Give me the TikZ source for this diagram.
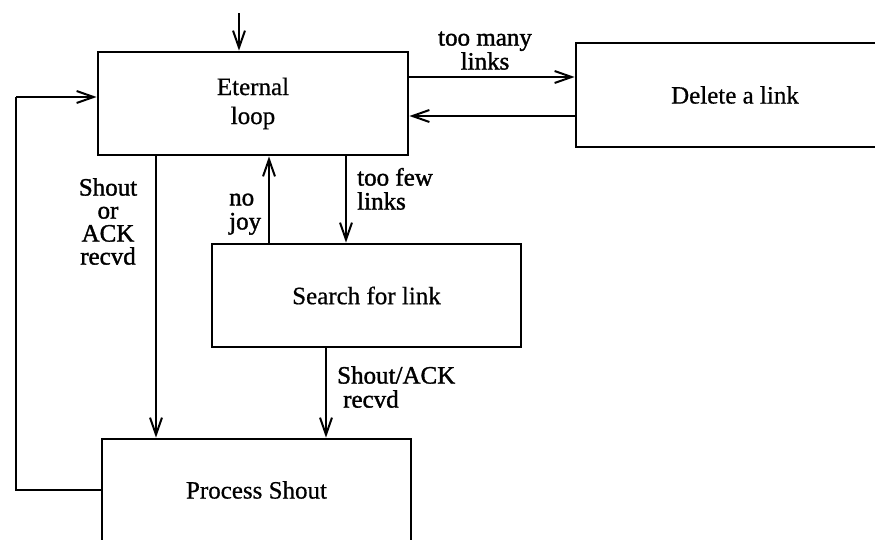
\documentclass[tikz,border=0pt]{standalone}
\usepackage{fontspec}
\setmainfont{Liberation Serif}
\newfontfamily\boxfamily{Liberation Serif}[FakeBold=0.6]
\newfontfamily\lblfamily{Liberation Serif}[FakeBold=1.4]
\usetikzlibrary{arrows.meta}
\newcommand\boxfont{\boxfamily\fontsize{25}{29}\selectfont}
\newcommand\lblfont{\lblfamily\fontsize{25}{24}\selectfont}
\begin{document}
\begin{tikzpicture}[x=1pt,y=-1pt,
  box/.style={draw, line width=2.8pt, inner sep=0pt, align=center, font=\boxfont},
  lbl/.style={inner sep=0pt, font=\lblfont},
  wire/.style={line width=2.3pt},
  arr/.style={wire, -{Straight Barb[length=17pt,width=12pt,line width=2pt]}}]
\clip (0,0) rectangle (875,539);

% states
\node[box, minimum width=310pt, minimum height=103pt] (loop)   at (253,103.5) {Eternal\\loop};
\node[box, minimum width=318pt, minimum height=104pt] (del)    at (735,95)    {Delete a link};
\node[box, minimum width=309pt, minimum height=103pt] (search) at (366.5,295.5) {Search for link};
\node[box, minimum width=309pt, minimum height=102pt] (proc)   at (256.5,490) {Process Shout};

% entry
\coordinate (entry) at (239,13);
\draw[arr] (entry) -- (entry |- loop.north);

% loop <-> delete
\coordinate (toDel) at ([yshift=26.5pt]loop.east);
\draw[arr] (toDel) -- (toDel -| del.west);
\coordinate (fromDel) at ([yshift=-21pt]del.west);
\draw[arr] (fromDel) -- (fromDel -| loop.east);

% loop -> process
\coordinate (shoutA) at ([xshift=-97pt]loop.south);
\draw[arr] (shoutA) -- (shoutA |- proc.north);

% search -> loop
\coordinate (noJoy) at ([xshift=-97.5pt]search.north);
\draw[arr] (noJoy) -- (noJoy |- loop.south);

% loop -> search
\coordinate (fewA) at ([xshift=93pt]loop.south);
\draw[arr] (fewA) -- (fewA |- search.north);

% search -> process
\coordinate (shoutB) at ([xshift=-40.5pt]search.south);
\draw[arr] (shoutB) -- (shoutB |- proc.north);

% process -> loop (feedback)
\coordinate (back) at (16,97);
\draw[wire] (proc.west) -| (back);
\draw[arr] (back) -- (back -| loop.west);

% labels
\node[lbl, anchor=south, align=center] (lmany) at (485,70) {too many\\links};
\node[lbl, anchor=south, align=center, font=\lblfamily\fontsize{25}{23}\selectfont] (lshout) at (108,265) {Shout\\or\\ACK\\recvd};
\node[lbl, anchor=south west, align=left] (ljoy) at (229,235) {no\\joy};
\node[lbl, anchor=south west, align=left] (lfew) at (357,210) {too few\\links};
\node[lbl, anchor=south west, align=left] (lrecv) at (337,408) {Shout/ACK\\\hspace*{6pt}recvd};
\end{tikzpicture}
\end{document}
